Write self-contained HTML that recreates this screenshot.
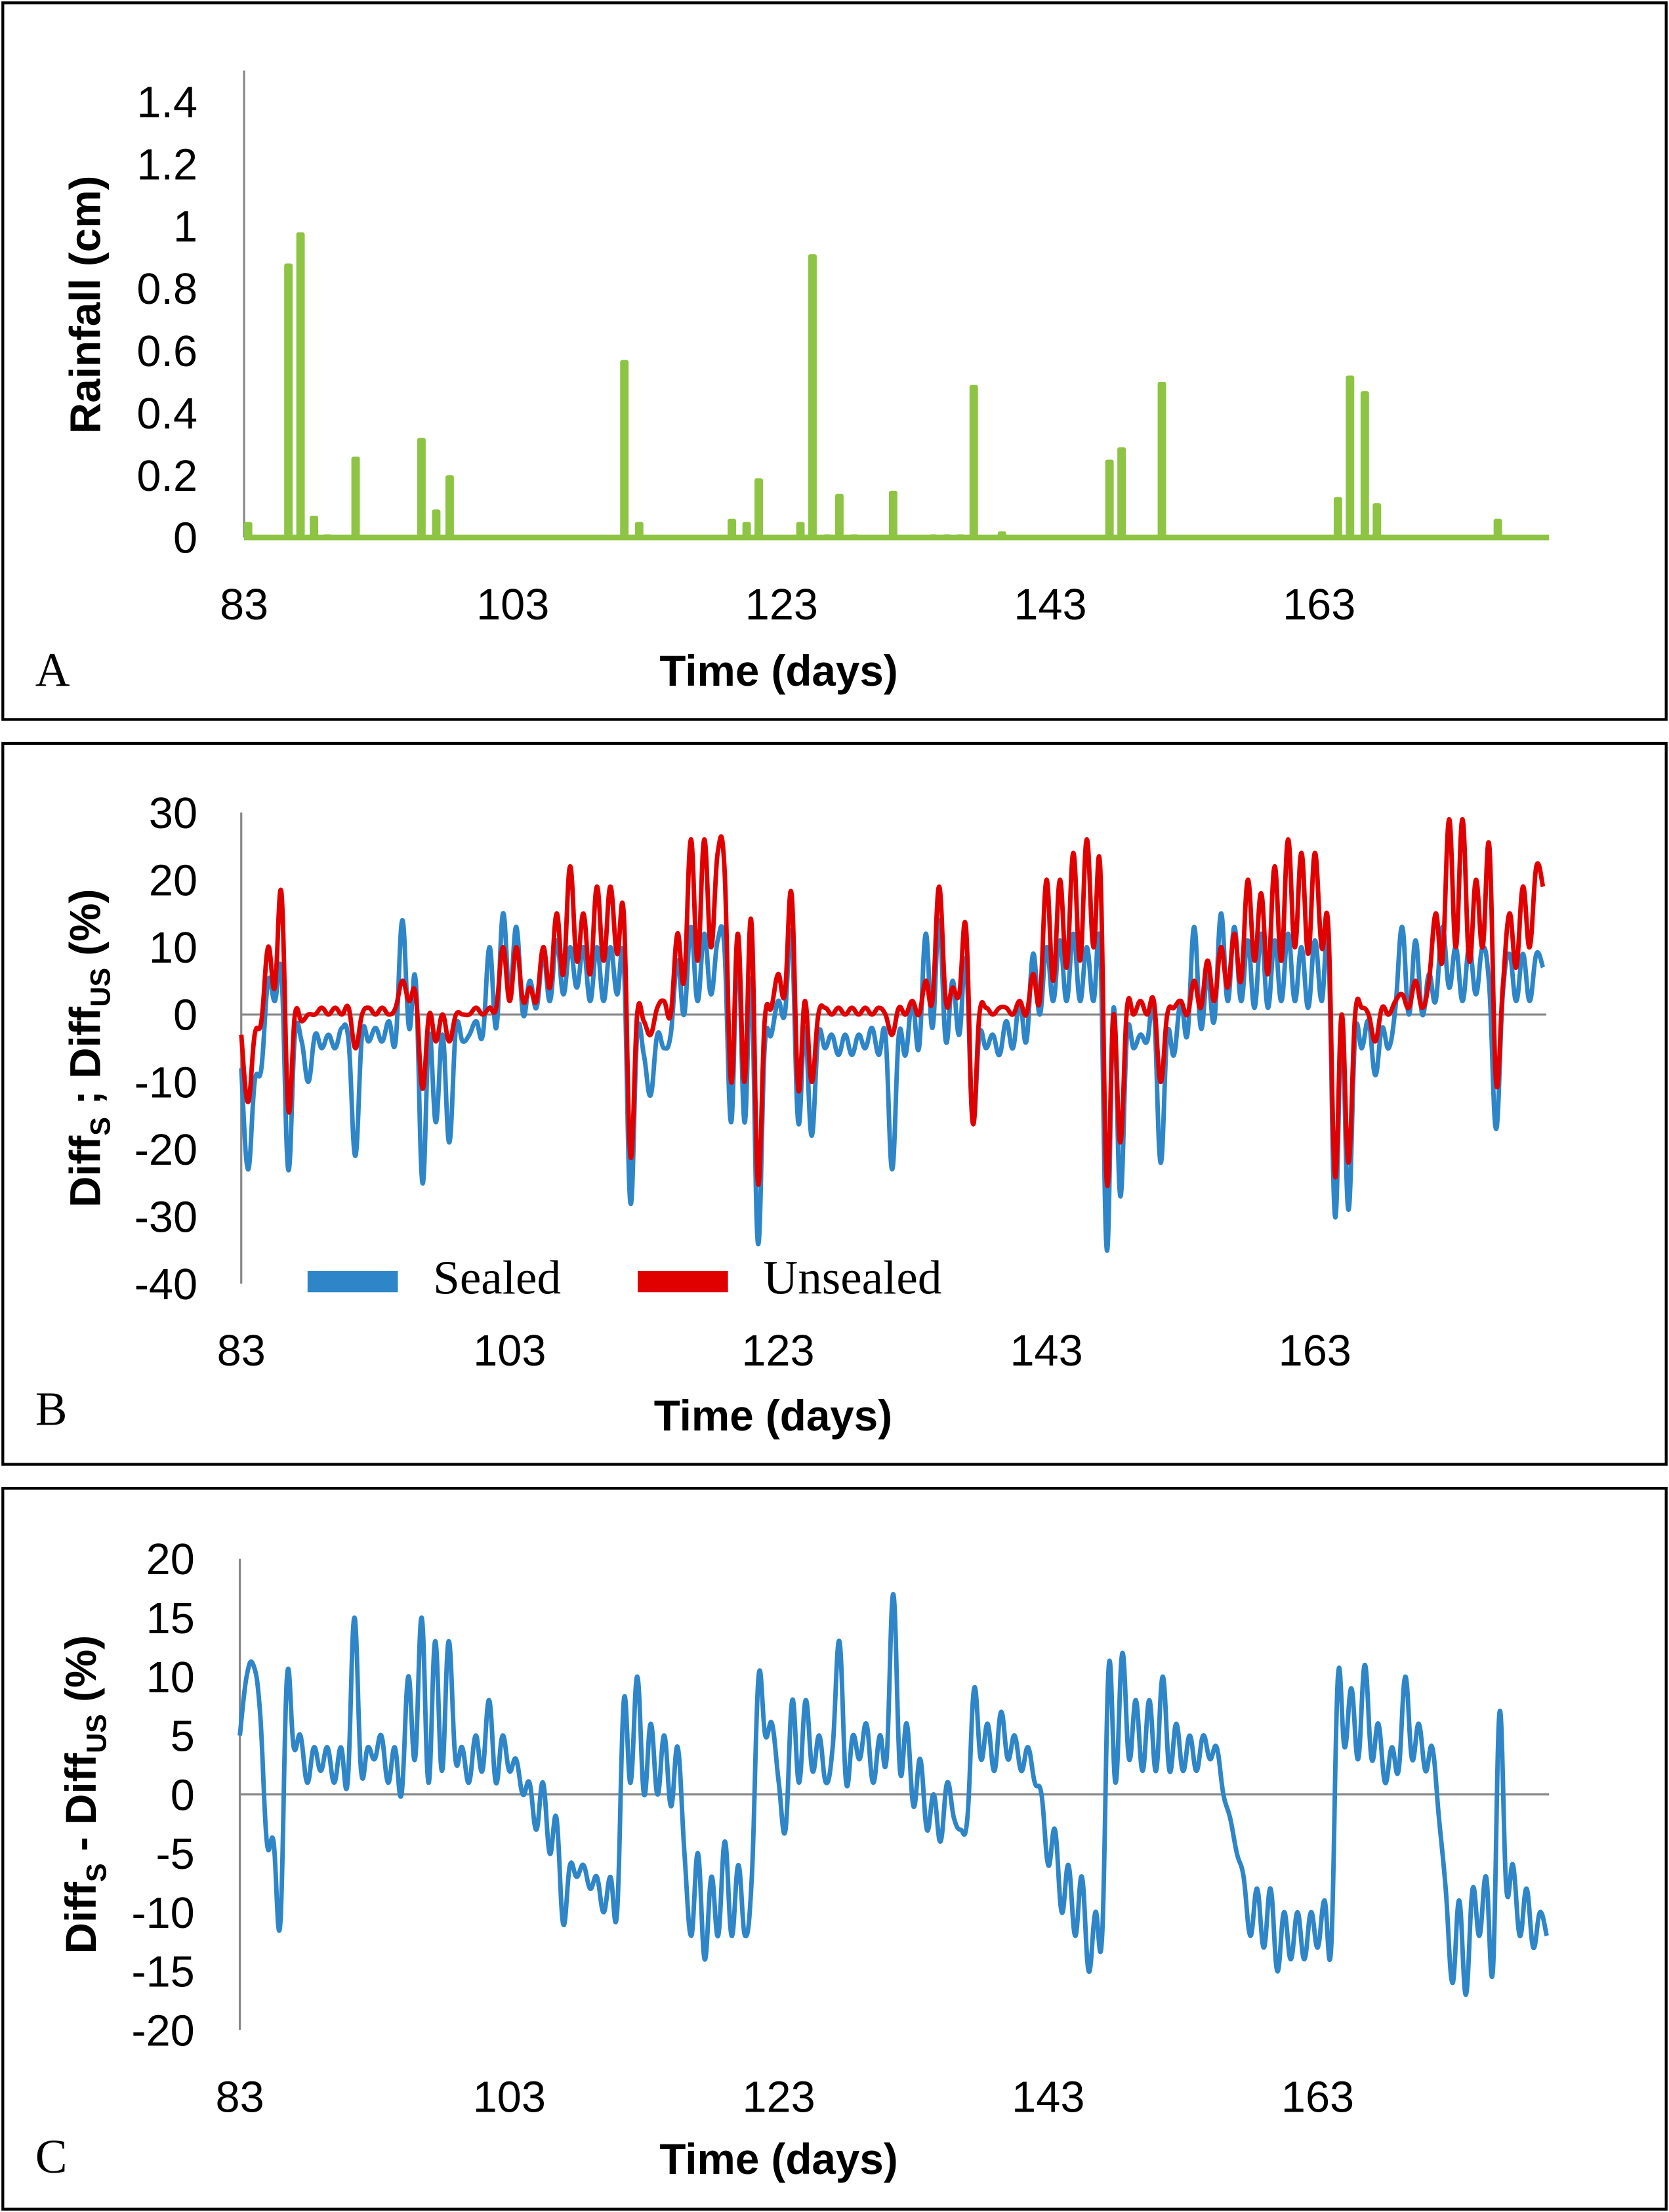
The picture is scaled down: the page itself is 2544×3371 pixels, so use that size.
<!DOCTYPE html>
<html><head><meta charset="utf-8"><style>
html,body{margin:0;padding:0;background:#fff;}
svg{display:block;}
.tick{font-family:"Liberation Sans",sans-serif;font-size:31px;fill:#000;}
.ttl{font-family:"Liberation Sans",sans-serif;font-size:30.5px;font-weight:bold;fill:#000;}
.ser{font-family:"Liberation Serif",serif;font-size:34px;fill:#000;}
</style></head><body>
<svg id="fig" width="2544" height="3371" viewBox="0 0 1183 1568" preserveAspectRatio="none" xmlns="http://www.w3.org/2000/svg">
<rect x="2" y="2" width="1179" height="508" fill="none" stroke="#000" stroke-width="2"/>
<rect x="2" y="527" width="1179" height="511" fill="none" stroke="#000" stroke-width="2"/>
<rect x="2" y="1055" width="1179" height="511" fill="none" stroke="#000" stroke-width="2"/>
<text class="ser" x="25" y="486">A</text>
<text class="ser" x="25" y="1010">B</text>
<text class="ser" x="25" y="1540">C</text>
<text class="ttl" x="552" y="486" text-anchor="middle">Time (days)</text>
<text class="ttl" x="548" y="1014" text-anchor="middle">Time (days)</text>
<text class="ttl" x="552" y="1541" text-anchor="middle">Time (days)</text>
<text class="ttl" transform="translate(71,216) rotate(-90)" text-anchor="middle">Rainfall (cm)</text>
<text class="ttl" transform="translate(71,743) rotate(-90)" text-anchor="middle">Diff<tspan font-size="20" dy="7">S</tspan><tspan dy="-7"> ; Diff</tspan><tspan font-size="20" dy="7">US</tspan><tspan dy="-7"> (%)</tspan></text>
<text class="ttl" transform="translate(68,1272) rotate(-90)" text-anchor="middle">Diff<tspan font-size="20" dy="7">S</tspan><tspan dy="-7"> - Diff</tspan><tspan font-size="20" dy="7">US</tspan><tspan dy="-7"> (%)</tspan></text>
<g id="ga"></g><g id="gb"></g><g id="gc"></g>
<rect x="218" y="901" width="64" height="15" fill="#2E86C8"/>
<text class="ser" x="307" y="917">Sealed</text>
<rect x="452" y="901" width="64" height="15" fill="#E00000"/>
<text class="ser" x="541" y="917">Unsealed</text>
</svg>
<script>
const xTicks=[83,103,123,143,163];
const rainDays=[83.3,86.3,87.2,88.2,89.2,91.3,96.2,97.3,98.3,111.3,112.4,119.3,120.4,121.3,124.4,125.3,126.4,127.3,128.4,131.3,134.3,135.3,136.3,137.3,139.4,147.4,148.3,151.3,164.4,165.3,166.4,167.3,176.3];
const rainVals=[0.05,0.88,0.98,0.07,0.01,0.26,0.32,0.09,0.2,0.57,0.05,0.06,0.05,0.19,0.05,0.91,0.01,0.14,0.01,0.15,0.01,0.01,0.01,0.49,0.02,0.25,0.29,0.5,0.13,0.52,0.47,0.11,0.06];
const rainTicks=[0,0.2,0.4,0.6,0.8,1,1.2,1.4];
const bTicks=[30,20,10,0,-10,-20,-30,-40];
const cTicks=[20,15,10,5,0,-5,-10,-15,-20];
const startDay=83, stepDay=0.5;
const sealed=[-8,-23,-10,-8,5,2,6,-23,-3,-4,
-10,-3,-5,-3,-5,-2,-4,-21,-3,-4,
-2,-4,-1,-4,14,-2,5,-25,-3,-16,
-3,-19,-2,-4,-3,-1,-3,10,-2,15,
3,13,0,5,1,9,2,11,3,10,
4,10,2,10,2,10,3,8,-28,-3,
-6,-12,-3,-5,-3,8,0,13,2,12,
3,11,10,-16,10,-16,5,-34,-5,-3,
2,0,12,-16,-2,-18,-3,-5,-3,-6,
-3,-6,-3,-5,-2,-6,-3,-23,-3,-6,
2,-5,12,-2,14,-4,5,-3,8,-16,
-3,-5,-3,-6,-1,-5,2,-4,9,0,
10,2,11,2,12,2,10,2,10,-35,
1,-27,-3,-5,-3,-4,1,-22,-3,-6,
2,-3,13,-2,6,-1,15,2,13,2,
11,1,12,1,11,2,12,2,10,1,
11,2,10,-30,-2,-29,-3,-5,-1,-9,
-2,-5,1,13,0,11,0,6,2,13,
4,10,2,10,3,10,4,-17,3,9,
2,9,2,9,7];
const unsealed=[-3,-13,-3,-1,10,4,18,-14,0,-1,
0,0,1,0,1,0,1,-5,0,1,
0,1,0,1,5,2,3,-11,0,-4,
0,-4,0,0,0,1,0,1,1,10,
2,10,2,4,2,10,4,15,6,22,
8,15,6,19,8,19,9,15,-21,0,
-1,-3,1,2,0,12,5,26,8,26,
10,24,22,-10,12,-10,14,-25,-1,1,
6,3,18,-11,2,-10,0,1,0,1,
0,1,0,1,0,1,0,-3,1,0,
2,0,5,2,19,2,4,3,13,-16,
0,1,0,1,1,0,2,0,6,2,
20,5,20,7,24,8,26,10,22,-25,
0,-19,1,0,2,0,2,-10,0,1,
2,0,5,1,8,2,10,4,12,5,
20,8,18,6,22,8,26,10,24,9,
24,10,13,-24,0,-22,0,1,0,-4,
1,0,2,3,1,5,1,5,15,8,
29,10,29,8,20,10,25,-10,4,15,
7,19,10,22,19];
const diffSU=[5,10,11,7,-4,-4,-11,10,4,5,
1,4,2,4,1,4,1,15,2,4,
3,5,1,4,0,10,3,15,1,13,
2,13,3,4,1,5,2,8,1,5,
2,3,0,1,-3,1,-5,-2,-11,-6,
-7,-6,-8,-7,-10,-7,-10,8,1,10,
0,6,0,5,-1,4,-5,-12,-5,-14,
-7,-12,-4,-12,-6,-12,-7,10,5,6,
1,-3,8,1,8,2,5,1,4,13,
1,5,3,6,1,5,3,17,2,6,
-1,3,-3,0,-4,1,-2,-3,-2,9,
3,6,2,7,3,5,2,4,1,0,
-6,-3,-10,-6,-12,-7,-15,-10,-12,11,
1,12,3,8,2,8,2,10,2,6,
2,5,2,5,3,4,0,-2,-5,-7,
-12,-8,-13,-8,-15,-10,-14,-10,-14,-10,
-13,-9,-13,10,4,9,3,11,3,6,
1,4,2,10,3,6,2,4,-2,-8,
-16,-9,-17,-8,-12,-7,-15,7,-8,-6,
-12,-8,-13,-10,-12];

const NS='http://www.w3.org/2000/svg';
function mk(tag,attrs,parent){const e=document.createElementNS(NS,tag);for(const k in attrs)e.setAttribute(k,attrs[k]);parent.appendChild(e);return e;}
function lin(d0,d1,r0,r1){return v=>r0+(v-d0)*(r1-r0)/(d1-d0);}
function smoothPath(pts){let d='M'+pts[0][0].toFixed(2)+','+pts[0][1].toFixed(2);
 for(let i=0;i<pts.length-1;i++){const p0=pts[Math.max(0,i-1)],p1=pts[i],p2=pts[i+1],p3=pts[Math.min(pts.length-1,i+2)];
 const t=0.2;const c1x=p1[0]+(p2[0]-p0[0])*t,c1y=p1[1]+(p2[1]-p0[1])*t,c2x=p2[0]-(p3[0]-p1[0])*t,c2y=p2[1]-(p3[1]-p1[1])*t;
 d+=' C'+c1x.toFixed(2)+','+c1y.toFixed(2)+' '+c2x.toFixed(2)+','+c2y.toFixed(2)+' '+p2[0].toFixed(2)+','+p2[1].toFixed(2);}
 return d;}
function xLabels(g,xs,y,nm){xTicks.forEach(t=>{const e=mk('text',{class:'tick',x:xs(t),y:y,'text-anchor':'middle'},g);e.textContent=t;
 
 });}
function yLabels(g,ticks,ys,x,nm){ticks.forEach(t=>{const e=mk('text',{class:'tick',x:x,y:ys(t)+11,'text-anchor':'end'},g);e.textContent=t;
 
 });}
function series(g,vals,xs,ys,color,nm){const pts=vals.map((v,i)=>[xs(startDay+i*stepDay),ys(v)]);
 const p=mk('path',{d:smoothPath(pts),fill:'none',stroke:color,'stroke-width':3.2,'stroke-linejoin':'round'},g);
 
 }

(function(){const g=document.getElementById('ga');
 const xs=lin(83,163,173,935), ys=lin(0,1.4,381,72);
 let a=mk('line',{x1:173,y1:50,x2:173,y2:381,stroke:'#888','stroke-width':1.5},g);
 
 
 rainDays.forEach((d,i)=>{const b=mk('rect',{x:xs(d)-3,y:ys(rainVals[i]),width:6,height:ys(0)-ys(rainVals[i]),fill:'#8DC443',rx:1.5},g);
  
  });
 let base=mk('line',{x1:173,y1:381,x2:1098,y2:381,stroke:'#8DC443','stroke-width':4},g);
 
 
 yLabels(g,rainTicks,ys,140,'panel-a');xLabels(g,xs,439,'panel-a');})();

(function(){const g=document.getElementById('gb');
 const xs=lin(83,163,171,932), ys=lin(30,-40,576,910);
 let a=mk('line',{x1:171,y1:576,x2:171,y2:910,stroke:'#888','stroke-width':1.5},g);
 
 
 let z=mk('line',{x1:171,y1:ys(0),x2:1096,y2:ys(0),stroke:'#888','stroke-width':1.5},g);
 
 
 series(g,sealed,xs,ys,'#2E86C8','sealed-line');
 series(g,unsealed,xs,ys,'#E00000','unsealed-line');
 yLabels(g,bTicks,ys,140,'panel-b');xLabels(g,xs,968,'panel-b');})();

(function(){const g=document.getElementById('gc');
 const xs=lin(83,163,170,934), ys=lin(20,-20,1105,1439);
 let a=mk('line',{x1:170,y1:1105,x2:170,y2:1439,stroke:'#888','stroke-width':1.5},g);
 
 
 let z=mk('line',{x1:170,y1:ys(0),x2:1098,y2:ys(0),stroke:'#888','stroke-width':1.5},g);
 
 
 series(g,diffSU,xs,ys,'#2E86C8','difference-line');
 yLabels(g,cTicks,ys,138,'panel-c');xLabels(g,xs,1497,'panel-c');})();
</script>
</body></html>
